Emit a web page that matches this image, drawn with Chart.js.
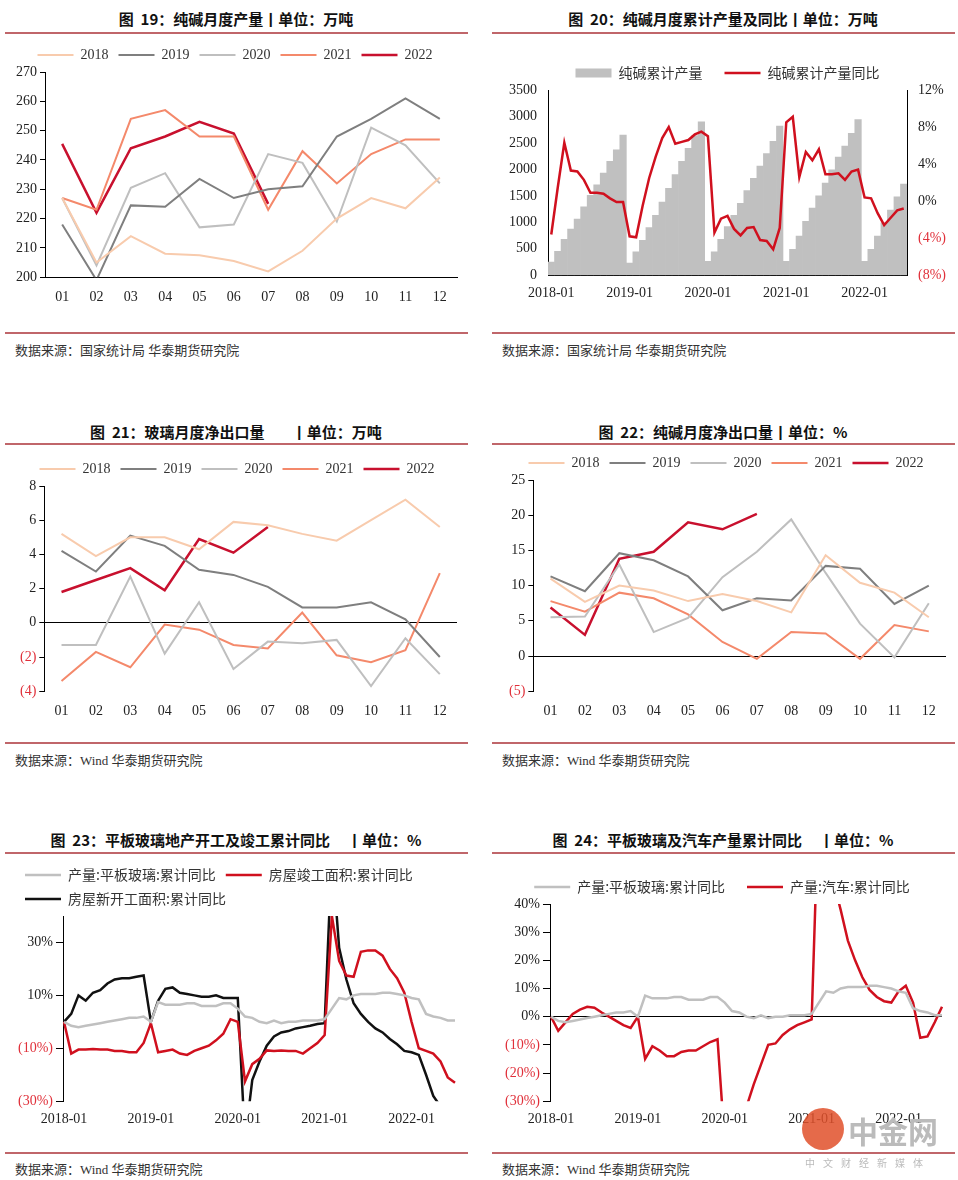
<!DOCTYPE html>
<html><head><meta charset="utf-8">
<script src="https://cdn.jsdelivr.net/npm/chart.js@4/dist/chart.umd.min.js"></script>
<style>
body{margin:0;background:#fff;width:958px;height:1180px;position:relative;font-family:"Noto Sans CJK SC",sans-serif;overflow:hidden}
.t{position:absolute;font-weight:bold;font-size:15px;color:#111;text-align:center;white-space:pre}
.l{position:absolute;height:2px;background:#c0666a}
.s{position:absolute;font-size:13px;color:#333;font-family:"Liberation Serif","Noto Sans CJK SC",serif}
.c{position:absolute}
</style></head><body>
<div class="t" style="left:5px;width:462px;top:8px">图  19：纯碱月度产量丨单位：万吨</div>
<div class="l" style="left:5px;width:463px;top:32px"></div>
<div class="c" style="left:5px;top:38px;width:462px;height:284px"><canvas id="c1"></canvas></div>
<div class="l" style="left:5px;width:463px;top:332px"></div>
<div class="s" style="left:15px;top:340px">数据来源：国家统计局  华泰期货研究院</div>

<div class="t" style="left:492px;width:462px;top:8px">图  20：纯碱月度累计产量及同比丨单位：万吨</div>
<div class="l" style="left:492px;width:463px;top:32px"></div>
<div class="c" style="left:492px;top:44px;width:462px;height:270px"><canvas id="c2"></canvas></div>
<div class="l" style="left:492px;width:463px;top:332px"></div>
<div class="s" style="left:502px;top:340px">数据来源：国家统计局  华泰期货研究院</div>

<div class="t" style="left:5px;width:462px;top:421px">图  21：玻璃月度净出口量        丨单位：万吨</div>
<div class="l" style="left:5px;width:463px;top:443px"></div>
<div class="c" style="left:5px;top:452px;width:462px;height:284px"><canvas id="c3"></canvas></div>
<div class="l" style="left:5px;width:463px;top:742px"></div>
<div class="s" style="left:15px;top:750px">数据来源：Wind 华泰期货研究院</div>

<div class="t" style="left:492px;width:462px;top:421px">图  22：纯碱月度净出口量丨单位：%</div>
<div class="l" style="left:492px;width:463px;top:443px"></div>
<div class="c" style="left:492px;top:446px;width:462px;height:290px"><canvas id="c4"></canvas></div>
<div class="l" style="left:492px;width:463px;top:742px"></div>
<div class="s" style="left:502px;top:750px">数据来源：Wind 华泰期货研究院</div>

<div class="t" style="left:5px;width:462px;top:829px">图  23：平板玻璃地产开工及竣工累计同比     丨单位：%</div>
<div class="l" style="left:5px;width:463px;top:852px"></div>
<div class="c" style="left:5px;top:858px;width:462px;height:276px"><canvas id="c5"></canvas></div>
<div class="l" style="left:5px;width:463px;top:1152px"></div>
<div class="s" style="left:15px;top:1159px">数据来源：Wind 华泰期货研究院</div>

<div class="t" style="left:492px;width:462px;top:829px">图  24：平板玻璃及汽车产量累计同比     丨单位：%</div>
<div class="l" style="left:492px;width:463px;top:852px"></div>
<div class="c" style="left:492px;top:858px;width:462px;height:276px"><canvas id="c6"></canvas></div>
<div class="l" style="left:492px;width:463px;top:1152px"></div>
<div class="s" style="left:502px;top:1159px">数据来源：Wind 华泰期货研究院</div>
<div style="position:absolute;left:802px;top:1108px;width:42px;height:42px;border-radius:50%;background:#e0502a;opacity:.85"></div>
<div style="position:absolute;left:848px;top:1108px;font-size:30px;font-weight:bold;color:#bbb">中金网</div>
<div style="position:absolute;left:805px;top:1155px;font-size:10px;letter-spacing:8px;color:#bbb">中文财经新媒体</div>

<script>
const months=['01','02','03','04','05','06','07','08','09','10','11','12'];
const years=['2018','2019','2020','2021','2022'];
const yearColors=['#f8cbad','#7f7f7f','#bfbfbf','#f4896b','#c8102e'];
// Chart 19
const soda2018=[227,205,214,208,207.5,205.5,202,209,220,227,223.5,234];
const soda2019=[218,199,224.5,224,233.5,227,230,231,248,254,261,254];
const soda2020=[227,204,230.5,235.5,217,218,242,239,219,251,245,232];
const soda2021=[227,223,254,257,248,248,223,243,232,242,247,247];
const soda2022=[245.5,222,244,248,253,249,225];
// Chart 20
const cumLabels=[];for(const y of years)for(const m of months){if(cumLabels.length<55)cumLabels.push(y+'-'+m);}
const cumProd=[250,450,680,870,1060,1290,1510,1710,1930,2150,2370,2650,
230,440,660,900,1130,1380,1640,1900,2150,2400,2640,2900,
260,440,680,920,1130,1360,1600,1830,2060,2300,2530,2820,
260,490,740,1020,1270,1500,1740,1990,2230,2440,2680,2940,
260,490,740,990,1230,1480,1720];
const cumYoy=[-3.6,1.5,6.3,3.3,3.2,2.3,0.9,0.9,0.8,0.3,-0.1,-0.1,
-3.8,-3.9,-0.5,2.5,4.8,6.8,8.0,6.2,6.4,6.6,7.2,7.5,
7.0,-3.4,-1.9,-1.6,-3.0,-3.7,-2.9,-2.8,-4.2,-4.3,-5.2,-2.9,
8.5,9.1,2.6,5.3,4.4,5.6,2.9,2.9,3.0,2.3,3.2,3.4,
0.4,0.3,-1.3,-2.6,-1.8,-1.0,-0.8];
// Chart 21
const glass2018=[5.2,3.9,5.0,5.0,4.3,5.9,5.7,5.2,4.8,6.0,7.2,5.6];
const glass2019=[4.2,3.0,5.1,4.5,3.1,2.8,2.1,0.9,0.9,1.2,0.2,-2.0];
const glass2020=[-1.3,-1.3,2.7,-1.8,1.2,-2.7,-1.1,-1.2,-1.0,-3.7,-0.9,-3.0];
const glass2021=[-3.4,-1.7,-2.6,-0.1,-0.4,-1.3,-1.5,0.6,-1.9,-2.3,-1.6,2.9];
const glass2022=[1.8,2.5,3.2,1.9,4.9,4.1,5.6];
// Chart 22
const sx2018=[11,7.7,10,9.3,7.8,8.8,7.8,6.2,14.3,10.4,9.0,5.5];
const sx2019=[11.3,9.2,14.6,13.6,11.3,6.5,8.2,7.9,12.8,12.4,7.4,10];
const sx2020=[5.5,5.6,13.0,3.4,5.4,11.2,14.8,19.4,11.8,4.6,-0.2,7.5];
const sx2021=[7.8,6.3,9.0,8.2,5.9,2.0,-0.4,3.4,3.2,-0.4,4.4,3.5];
const sx2022=[6.9,3.0,13.8,14.8,19.0,18.0,20.2];
// Chart 23/24
const flatGlassYoy=[0,-1.5,-2,-1.5,-1,-0.5,0,0.5,1,1.5,1.5,2,
0,7.5,6.5,6.5,6.5,7,7,6,6,6,7,7,
5,2,1.5,0,-0.5,0.5,-0.5,0,0,0.5,0.5,0.5,
1,5,9,8.5,10,10.5,10.5,10.5,11,11,10.5,10,
9,8.5,3,2,1.5,0.5,0.5];
const completedYoy=[0,-12,-10.5,-10.5,-10.3,-10.5,-10.5,-11,-11,-11.5,-11.5,-8,
-0.5,-11.5,-11,-10.5,-12,-12.5,-11,-10,-9,-7,-4.5,1,
0,-22.5,-16,-14,-10.8,-11,-10.8,-11,-11,-12,-10,-8,
-5,40,23,17.5,17,26.5,27,27,25,20,16.5,11,
0,-10,-11,-12,-15,-21,-23];
const newStartYoy=[0,3,10,8,11,12,14.5,16,16.5,16.5,17,17.5,
0,8,12.5,13,11,10.5,10,9.5,9.5,10,9,9,
9,-45,-22,-15,-9,-5.5,-4,-3.5,-2.5,-2,-1.5,-0.8,
-0.5,64,28,16,7,3,0,-2.5,-4,-6.5,-8.5,-11,
-11.5,-12.5,-20,-28,-32,-36,-40];
const autoYoy=[0,-5,-2,1,2.5,3.5,3.2,1.5,0,-1.5,-3,-4,
0,-15,-10.5,-12,-14,-14,-12.5,-12,-12,-10.5,-9,-8,
-45,-45,-35,-32,-24,-17,-10,-9.5,-6.5,-4.5,-3,-2,
-1,80,60,48,38,27,20,14,9.5,7,5.5,5,
9,11,5,-7.5,-7,-2,3.5];

const serif='"Liberation Serif","Times New Roman",serif';
const cjk='"Noto Sans CJK SC",sans-serif';
Chart.defaults.font.family=serif;Chart.defaults.font.size=14;Chart.defaults.color='#222';
Chart.defaults.animation=false;Chart.defaults.responsive=true;Chart.defaults.maintainAspectRatio=false;
const redNeg=v=>v<0?'#e0303a':'#222';
function fmt(v,pct){const s=Math.abs(v)+(pct?'%':'');return v<0?'('+s+')':s;}
const lbl=(font,pad)=>({usePointStyle:true,pointStyleWidth:36,boxHeight:4,padding:pad,font:{family:font,size:14},color:'#333'});
function yearSets(arrs){return arrs.map((d,i)=>({label:years[i],data:d,borderColor:yearColors[i],backgroundColor:yearColors[i],borderWidth:i==4?2.5:2,pointRadius:0,pointStyle:'line',tension:0}));}
function monthChart(id,arrs,ymin,ymax,step,pad){
 new Chart(document.getElementById(id),{type:'line',data:{labels:months,datasets:yearSets(arrs)},
 options:{layout:{padding:pad},plugins:{legend:{labels:Object.assign(lbl(serif,10),{boxHeight:3})}},
 scales:{x:{offset:true,grid:{display:false,drawTicks:false},border:{display:ymin>=0,color:'#000'},ticks:{padding:12}},
 y:{min:ymin,max:ymax,ticks:{stepSize:step,color:c=>redNeg(c.tick.value),callback:v=>fmt(v,false)},
 grid:{color:c=>c.tick.value===0&&ymin<0?'#000':'transparent',drawTicks:true,tickLength:5,tickColor:'#000'},border:{color:'#000'}}}}});
}
monthChart('c1',[soda2018,soda2019,soda2020,soda2021,soda2022],200,270,10,{left:8,right:10,bottom:4});
monthChart('c3',[glass2018,glass2019,glass2020,glass2021,glass2022],-4,8,2,{left:12,right:10,bottom:4});
monthChart('c4',[sx2018,sx2019,sx2020,sx2021,sx2022],-5,25,5,{left:14,right:8,bottom:4});

const yearTick=(v,i)=>i%12===0?cumLabels[i]:'';
new Chart(document.getElementById('c2'),{data:{labels:cumLabels,datasets:[
 {type:'line',label:'纯碱累计产量同比',data:cumYoy,yAxisID:'y2',borderColor:'#d0101e',backgroundColor:'#d0101e',borderWidth:2.5,pointRadius:0,pointStyle:'line',tension:0},
 {type:'bar',label:'纯碱累计产量',data:cumProd,yAxisID:'y',backgroundColor:'#c0c0c0',pointStyle:'rect',barPercentage:1,categoryPercentage:1}]},
 options:{layout:{padding:{left:14,right:5,bottom:10}},plugins:{legend:{reverse:true,labels:Object.assign(lbl(cjk,22),{boxHeight:9})}},
 scales:{x:{grid:{display:false},border:{color:'#000'},ticks:{autoSkip:false,maxRotation:0,callback:yearTick,padding:2}},
 y:{min:0,max:3500,ticks:{stepSize:500,callback:v=>String(v)},grid:{display:false,drawTicks:true},border:{color:'#000'}},
 y2:{position:'right',min:-8,max:12,ticks:{stepSize:2,color:c=>redNeg(c.tick.value),callback:v=>fmt(v,true)},grid:{display:false},border:{color:'#000'}}}}});

const lineDs=(label,data,color,w)=>({label,data,borderColor:color,backgroundColor:color,borderWidth:w,pointRadius:0,pointStyle:'line',tension:0});
new Chart(document.getElementById('c5'),{type:'line',data:{labels:cumLabels,datasets:[
 lineDs('产量:平板玻璃:累计同比',flatGlassYoy,'#c0c0c0',2.5),
 lineDs('房屋竣工面积:累计同比',completedYoy,'#d0101e',2.5),
 lineDs('房屋新开工面积:累计同比',newStartYoy,'#111',2.5)]},
 options:{layout:{padding:{left:10,right:12,bottom:4}},plugins:{legend:{align:'start',labels:Object.assign(lbl(cjk,10),{boxHeight:3})}},
 scales:{x:{grid:{display:false},border:{display:false},ticks:{autoSkip:false,maxRotation:0,callback:yearTick,padding:2}},
 y:{min:-30,max:40,afterBuildTicks:a=>{a.ticks=[-30,-10,10,30].map(v=>({value:v}));},ticks:{color:c=>redNeg(c.tick.value),callback:v=>fmt(v,true)},
 grid:{color:c=>c.tick.value===0?'#000':'transparent',tickColor:'#000'},border:{color:'#000'}}}}});

new Chart(document.getElementById('c6'),{type:'line',data:{labels:cumLabels,datasets:[
 lineDs('产量:平板玻璃:累计同比',flatGlassYoy,'#c0c0c0',2.5),
 lineDs('产量:汽车:累计同比',autoYoy,'#d0101e',2.5)]},
 options:{layout:{padding:{left:10,right:12,bottom:4}},plugins:{legend:{labels:Object.assign(lbl(cjk,22),{boxHeight:3})}},
 scales:{x:{grid:{display:false},border:{display:false},ticks:{autoSkip:false,maxRotation:0,callback:yearTick,padding:2}},
 y:{min:-30,max:40,ticks:{stepSize:10,color:c=>redNeg(c.tick.value),callback:v=>fmt(v,true)},
 grid:{color:c=>c.tick.value===0?'#000':'transparent',tickColor:'#000'},border:{color:'#000'}}}}});
</script></body></html>
